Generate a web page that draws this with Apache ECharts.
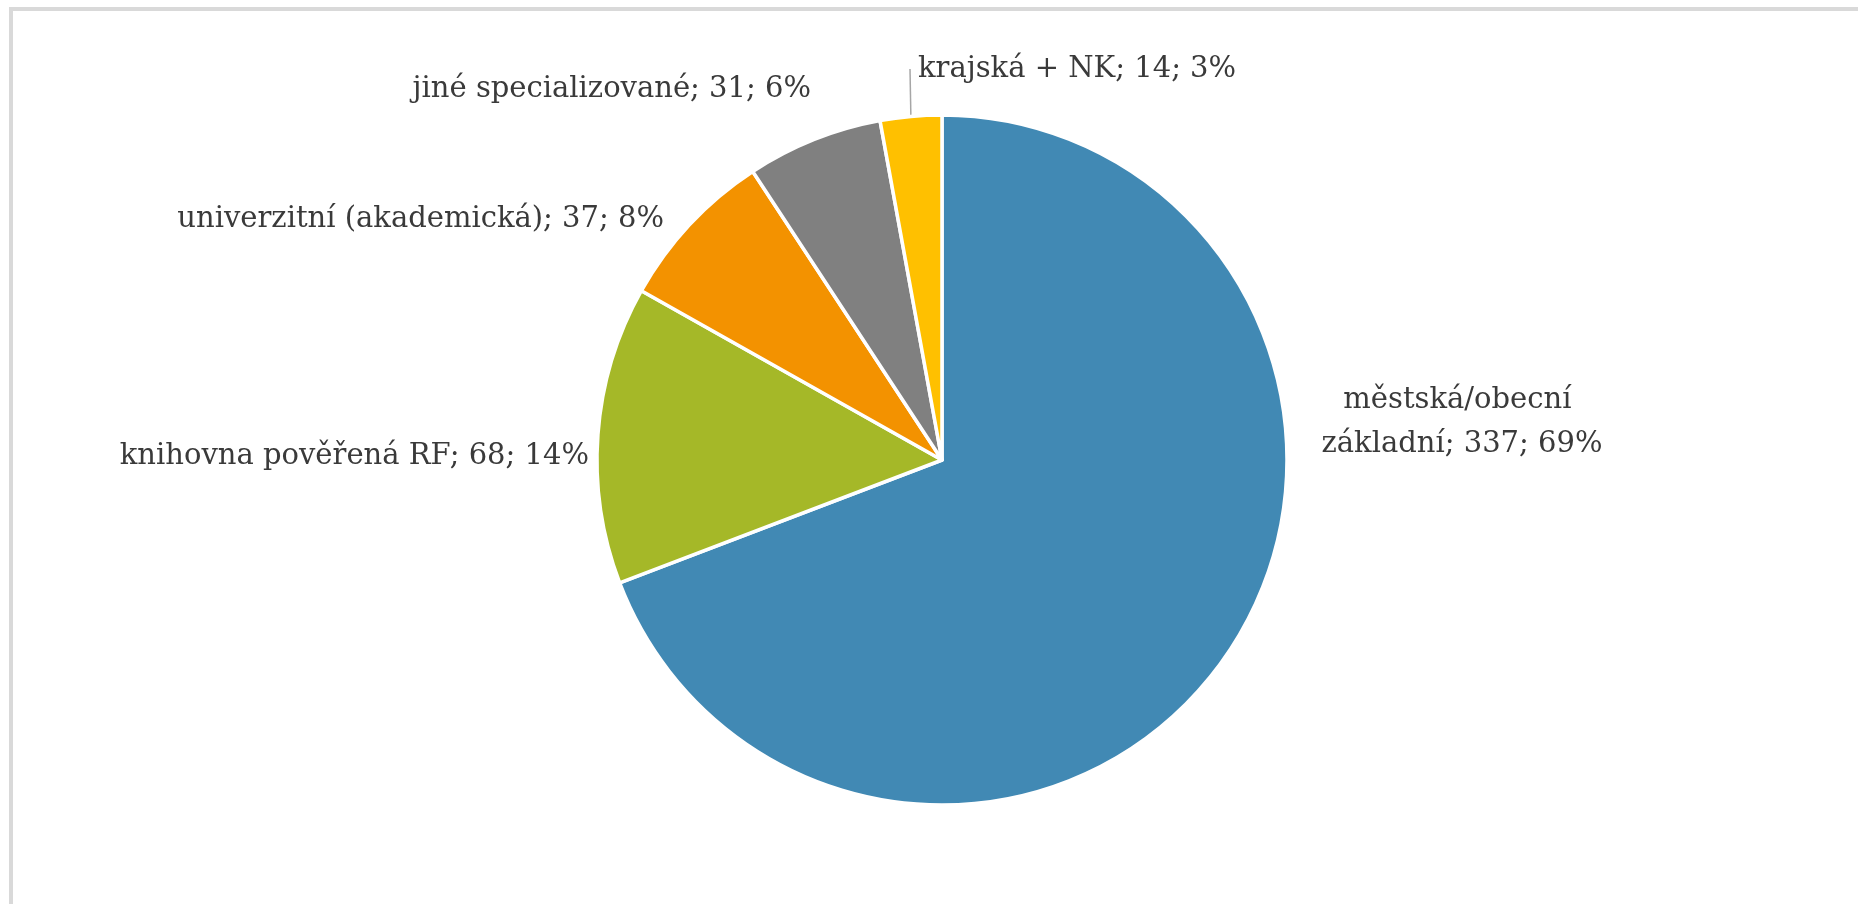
<!DOCTYPE html>
<html>
<head>
<meta charset="utf-8">
<script src="https://cdn.jsdelivr.net/npm/echarts@6/dist/echarts.min.js"></script>
<style>
  html, body { margin: 0; padding: 0; background: #fff; }
  #frame {
    position: absolute; left: 9px; top: 7px; width: 1900px; height: 960px;
    border-top: 4px solid #d9d9d9; border-left: 4px solid #d9d9d9;
  }
  #chart { position: absolute; left: 0; top: 0; width: 1858px; height: 904px; }
</style>
</head>
<body>
<div id="frame"></div>
<div id="chart"></div>
<script>
const categories = ['městská/obecní základní', 'knihovna pověřená RF', 'univerzitní (akademická)', 'jiné specializované', 'krajská + NK'];
const values = [337, 68, 37, 31, 14];
const colors = ['#4189b4', '#a5b828', '#f39200', '#808080', '#ffc000'];

// where Excel put each label: [x, y, align]
const labelPos = [
  [1462, 422, 'center'],
  [589, 456, 'right'],
  [664, 219, 'right'],
  [811, 89, 'right'],
  [910, 69, 'left']
];

const chart = echarts.init(document.getElementById('chart'));

const data = categories.map((name, i) => ({
  name: name,
  value: values[i],
  itemStyle: { color: colors[i] },
  label: i === 0 ? { width: 330, overflow: 'break', align: 'center' }
    : i === 4 ? { padding: [0, 0, 0, 8] } : {},
  labelLine: { show: i === 4 }
}));

chart.setOption({
  animation: false,
  series: [{
    type: 'pie',
    center: [942, 460],
    radius: 345,
    startAngle: 90,
    clockwise: true,
    percentPrecision: 0,
    data: data,
    itemStyle: { borderColor: '#fff', borderWidth: 3.5 },
    label: {
      show: true,
      position: 'outside',
      formatter: '{b}; {c}; {d}%',
      fontFamily: 'DejaVu Serif',
      fontSize: 29,
      lineHeight: 44,
      color: '#3a3a3a'
    },
    labelLine: {
      length: 10,
      length2: 0,
      lineStyle: { color: '#a6a6a6', width: 1.5 }
    },
    labelLayout: function (params) {
      const p = labelPos[params.dataIndex];
      return { x: p[0], y: p[1], align: p[2], verticalAlign: 'middle' };
    }
  }]
});

window.addEventListener('resize', function () {
  chart && chart.resize();
});
</script>
</body>
</html>
